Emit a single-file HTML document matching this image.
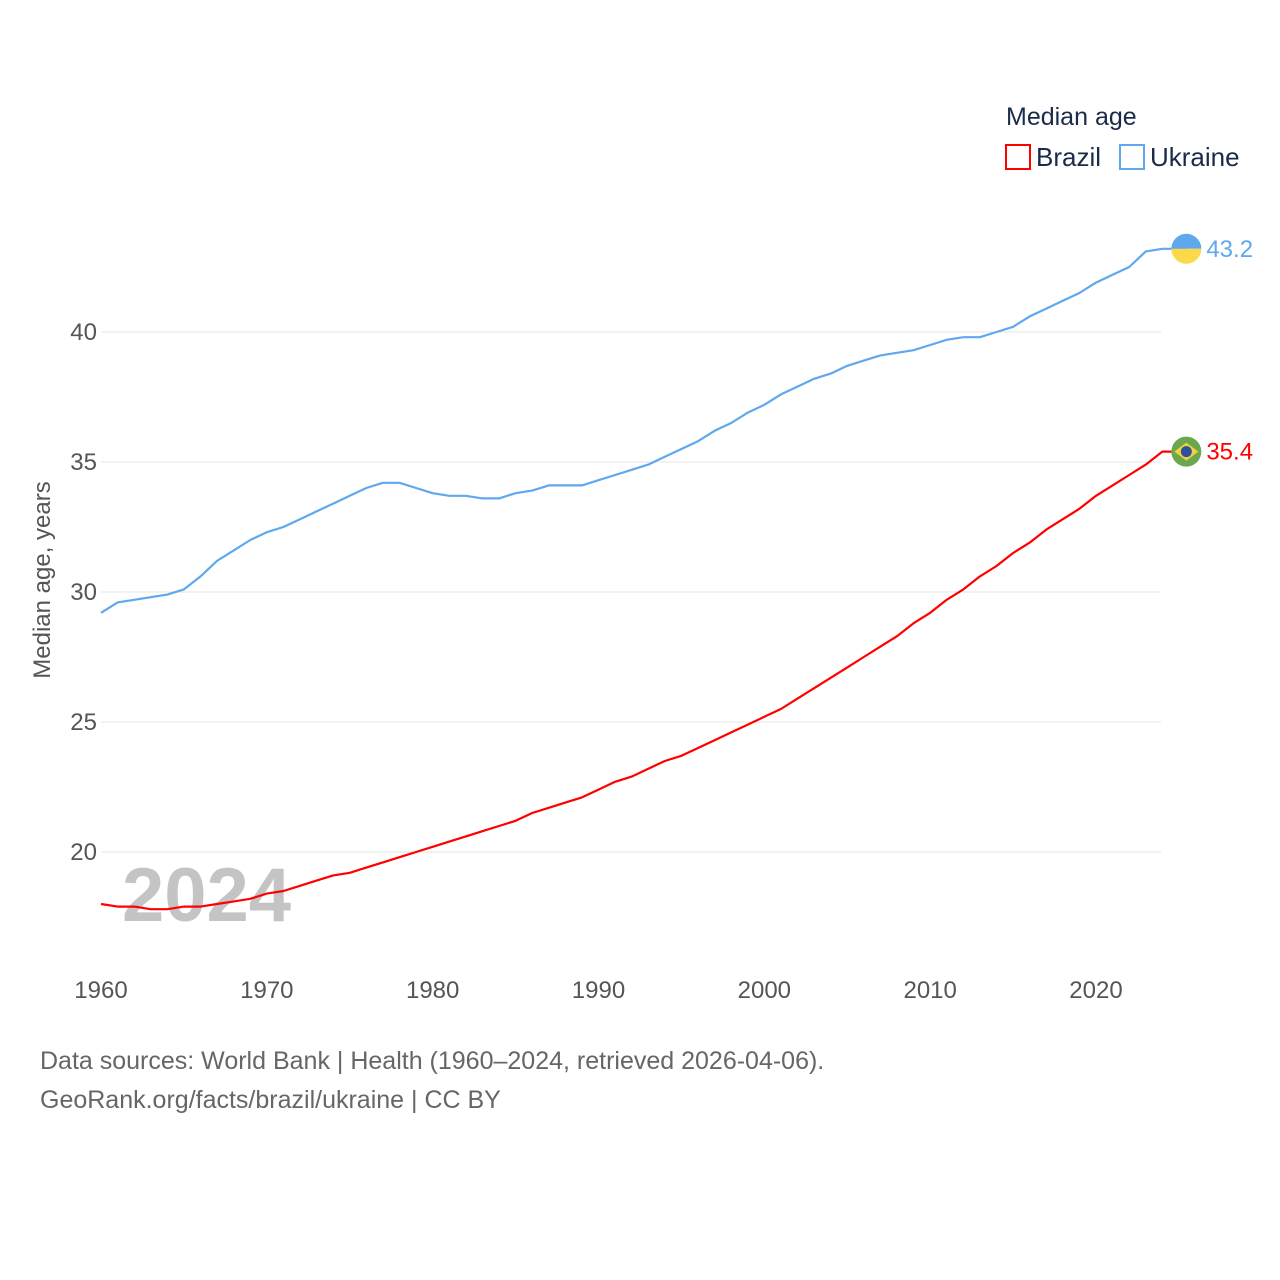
<!DOCTYPE html>
<html><head><meta charset="utf-8"><style>
html,body{margin:0;padding:0;background:#fff;}
svg{display:block;font-family:"Liberation Sans",sans-serif;}
</style></head><body>
<svg id="chart" width="1280" height="1280">
  <text x="1006" y="125" font-size="25" fill="#1a2b4a">Median age</text>
  <g>
    <rect x="1006" y="145" width="24" height="24" fill="none" stroke="#f00" stroke-width="2"/>
    <text x="1036" y="166" font-size="26" fill="#1a2b4a">Brazil</text>
  </g>
  <g>
    <rect x="1120" y="145" width="24" height="24" fill="none" stroke="#5fa8ee" stroke-width="2"/>
    <text x="1150" y="166" font-size="26" fill="#1a2b4a">Ukraine</text>
  </g>
  <text transform="translate(50,580) rotate(-90)" text-anchor="middle" font-size="24" fill="#555">Median age, years</text>
  <g id="grid"></g>
  <text x="122" y="921" font-size="76" font-weight="bold" fill="#c4c4c4">2024</text>
  <g id="series"></g>
  <text x="40" y="1069" font-size="25" fill="#666">Data sources: World Bank | Health (1960–2024, retrieved 2026-04-06).</text>
  <text x="40" y="1108" font-size="25" fill="#666">GeoRank.org/facts/brazil/ukraine | CC BY</text>
</svg>
<script>
const years = Array.from({length:65},(_,i)=>1960+i);
const ukraine = [29.2,29.6,29.7,29.8,29.9,30.1,30.6,31.2,31.6,32.0,32.3,32.5,32.8,33.1,33.4,33.7,34.0,34.2,34.2,34.0,33.8,33.7,33.7,33.6,33.6,33.8,33.9,34.1,34.1,34.1,34.3,34.5,34.7,34.9,35.2,35.5,35.8,36.2,36.5,36.9,37.2,37.6,37.9,38.2,38.4,38.7,38.9,39.1,39.2,39.3,39.5,39.7,39.8,39.8,40.0,40.2,40.6,40.9,41.2,41.5,41.9,42.2,42.5,43.1,43.2];
const brazil = [18.0,17.9,17.9,17.8,17.8,17.9,17.9,18.0,18.1,18.2,18.4,18.5,18.7,18.9,19.1,19.2,19.4,19.6,19.8,20.0,20.2,20.4,20.6,20.8,21.0,21.2,21.5,21.7,21.9,22.1,22.4,22.7,22.9,23.2,23.5,23.7,24.0,24.3,24.6,24.9,25.2,25.5,25.9,26.3,26.7,27.1,27.5,27.9,28.3,28.8,29.2,29.7,30.1,30.6,31.0,31.5,31.9,32.4,32.8,33.2,33.7,34.1,34.5,34.9,35.4];
const yTicks = [20,25,30,35,40];
const xTicks = [1960,1970,1980,1990,2000,2010,2020];
const sx = y => 101 + (y-1960)*(995/60);
const sy = v => 852 - (v-20)*26;
const NS="http://www.w3.org/2000/svg";
const grid=document.getElementById('grid'), ser=document.getElementById('series');
function mk(tag,attrs,parent){const e=document.createElementNS(NS,tag);for(const k in attrs)e.setAttribute(k,attrs[k]);parent.appendChild(e);return e;}
yTicks.forEach(t=>{
  const l=mk('line',{x1:101,x2:1161,y1:sy(t),y2:sy(t),stroke:'#e6e6e6','stroke-width':1},grid);
  
  
  const tx=mk('text',{x:97,y:sy(t)+8,'text-anchor':'end','font-size':24,fill:'#555'},grid);
  tx.textContent=t;
  
  
});
xTicks.forEach(t=>{
  const tx=mk('text',{x:sx(t),y:998,'text-anchor':'middle','font-size':24,fill:'#555'},grid);
  tx.textContent=t;
  
  
});
function drawSeries(vals,color,name){
  const pts=vals.map((v,i)=>sx(years[i]).toFixed(1)+','+sy(v).toFixed(1));
  const last=vals[vals.length-1], lx=sx(years[years.length-1]);
  pts.push((lx+24).toFixed(1)+','+sy(last).toFixed(1));
  const p=mk('polyline',{points:pts.join(' '),fill:'none',stroke:color,'stroke-width':2.2,'stroke-linejoin':'round'},ser);
  
  
  return {cx:lx+24,cy:sy(last),last};
}
const u=drawSeries(ukraine,'#5fa8ee','ukraine');
const b=drawSeries(brazil,'#f00','brazil');
const ug=mk('g',{},ser);


mk('path',{d:`M${u.cx-15},${u.cy} A15,15 0 0 1 ${u.cx+15},${u.cy} Z`,fill:'#5fa8ee'},ug);
mk('path',{d:`M${u.cx-15},${u.cy} A15,15 0 0 0 ${u.cx+15},${u.cy} Z`,fill:'#fcd94a'},ug);
const ut=mk('text',{x:u.cx+20,y:u.cy+8,'font-size':24,fill:'#5fa8ee'},ser);
ut.textContent=u.last.toFixed(1);


const bg=mk('g',{},ser);


mk('circle',{cx:b.cx,cy:b.cy,r:15,fill:'#6aa84f'},bg);
mk('polygon',{points:`${b.cx-12},${b.cy} ${b.cx},${b.cy-9} ${b.cx+12},${b.cy} ${b.cx},${b.cy+9}`,fill:'#f2d13a'},bg);
mk('circle',{cx:b.cx,cy:b.cy,r:5.5,fill:'#2c4f9e'},bg);
const bt=mk('text',{x:b.cx+20,y:b.cy+8,'font-size':24,fill:'#f00'},ser);
bt.textContent=b.last.toFixed(1);


</script>
</body></html>
